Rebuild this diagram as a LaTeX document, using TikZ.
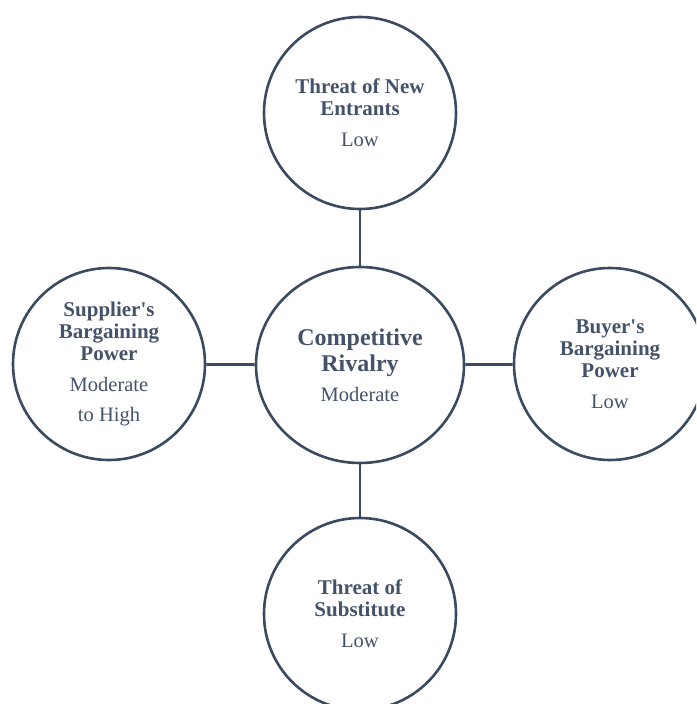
\documentclass[tikz,border=0pt]{standalone}
\usepackage{fontspec}
\setmainfont{Liberation Serif}
\usetikzlibrary{shapes.geometric}
\definecolor{strokec}{HTML}{3A4A5F}
\definecolor{textc}{HTML}{44536A}
\newcommand{\nl}[1]{{\mdseries\fontsize{20.5}{22}\selectfont #1}}
\tikzset{
  force/.style={circle, draw=strokec, line width=2.6pt, minimum size=192pt, inner sep=0pt,
    text=textc, align=center, font={\fontsize{21}{22}\selectfont\bfseries}},
  hub/.style={ellipse, draw=strokec, line width=2.6pt, minimum width=208pt, minimum height=196pt, inner sep=0pt,
    text=textc, align=center, font={\fontsize{24}{26}\selectfont\bfseries}},
  link/.style={draw=strokec, line width=2.8pt}
}
\begin{document}
\begin{tikzpicture}[x=1pt,y=-1pt]
\useasboundingbox (0,0) rectangle (696,704);
\clip (0,0) rectangle (696,704);
\fill[white] (0,0) rectangle (696,704);
\node[hub] (c) at (360,365) {Competitive\\Rivalry\\[4pt]\nl{Moderate}};
\node[force] (t) at (360,113) {Threat of New\\Entrants\\[9pt]\nl{Low}};
\node[force] (l) at (109,364) {Supplier\textquotesingle s\\Bargaining\\Power\\[9pt]\nl{Moderate}\\[8pt]\nl{to High}};
\node[force] (r) at (610,364) {Buyer\textquotesingle s\\Bargaining\\Power\\[9pt]\nl{Low}};
\node[force] (b) at (360,614) {Threat of\\Substitute\\[9pt]\nl{Low}};
\draw[link] (t) -- (c);
\draw[link] (c) -- (b);
\draw[link] (l) -- (c);
\draw[link] (c) -- (r);
\end{tikzpicture}
\end{document}
